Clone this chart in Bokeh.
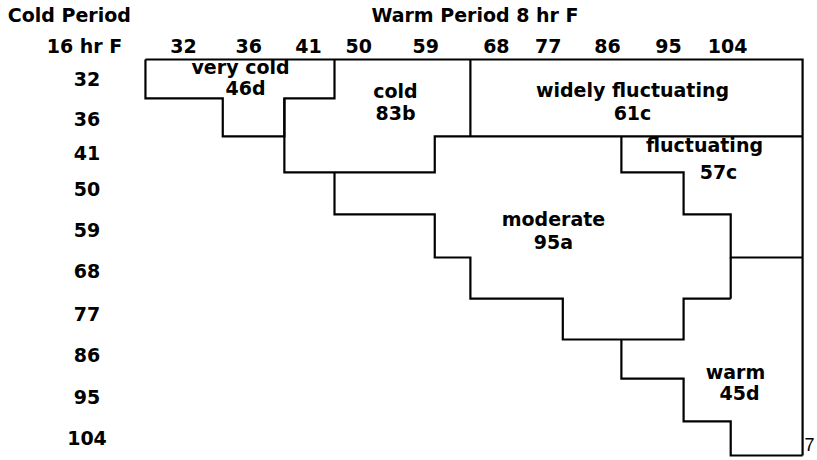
from bokeh.plotting import figure
from bokeh.models import Range1d
from bokeh.core.properties import value
from bokeh.embed import file_html
from bokeh.resources import INLINE

# ---------------- data ----------------
warm_temps = ["32", "36", "41", "50", "59", "68", "77", "86", "95", "104"]
cold_temps = ["32", "36", "41", "50", "59", "68", "77", "86", "95", "104"]

# header positions (warm, in column units) and row-label baselines (cold, in row units)
warm_label_pos = [0.0, 1.08, 2.07, 2.90, 4.01, 5.18, 6.04, 7.02, 8.03, 9.01]
cold_label_pos = [0.48, 1.49, 2.37, 3.26, 4.31, 5.35, 6.43, 7.47, 8.51, 9.57]

# grid edges of the drawn classification (column units / row units)
warm_edges = [-0.63, 0.65, 1.67, 2.50, 4.16, 4.75, 6.28, 7.25, 8.28, 9.06, 10.25]
cold_edges = [0.0, 0.98, 1.94, 2.85, 3.91, 5.0, 6.04, 7.07, 8.06, 9.14, 10.0]

# region boundaries as (warm edge index, cold edge index) vertices
boundary_paths = [
    [(0, 0), (10, 0), (10, 10)],
    [(0, 0), (0, 1), (1, 1), (1, 2), (2, 2), (2, 1), (3, 1), (3, 0)],
    [(2, 1), (2, 3), (4, 3), (4, 2), (10, 2)],
    [(5, 0), (5, 2)],
    [(7, 2), (7, 3), (8, 3), (8, 4), (9, 4), (9, 5), (10, 5)],
    [(9, 5), (9, 6)],
    [(3, 3), (3, 4), (4, 4), (4, 5), (5, 5), (5, 6), (6, 6), (6, 7), (8, 7), (8, 6), (9, 6)],
    [(7, 7), (7, 8), (8, 8), (8, 9), (9, 9), (9, 10), (10, 10)],
]

region_names = ["very cold", "cold", "widely fluctuating", "fluctuating", "moderate", "warm"]
region_codes = ["46d", "83b", "61c", "57c", "95a", "45d"]
name_x = [0.944, 3.51, 7.434, 8.626, 6.126, 9.139]
name_y = [0.184, 0.783, 0.775, 2.164, 4.015, 7.886]
code_x = [1.026, 3.51, 7.434, 8.858, 6.126, 9.205]
code_y = [0.732, 1.351, 1.363, 2.836, 4.603, 8.434]

# ---------------- figure ----------------
p = figure(width=817, height=460,
           x_range=Range1d(-3.030, 10.497), y_range=Range1d(10.126, -1.490),
           output_backend="svg", toolbar_location=None, min_border=0)
p.axis.visible = False
p.grid.visible = False
p.outline_line_color = None
p.background_fill_color = "white"
p.border_fill_color = "white"

xs = [[warm_edges[i] for i, j in path] for path in boundary_paths]
ys = [[cold_edges[j] for i, j in path] for path in boundary_paths]
p.multi_line(xs=xs, ys=ys, line_color="black", line_width=2.2, line_join="miter")

FONT = value("DejaVu Sans")
common = dict(text_font=FONT, text_font_style="bold", text_font_size="19px",
              text_color="black", text_baseline="alphabetic")

# titles
p.text(x=[-2.91], y=[-1.124], text=["Cold Period"], text_align="left", **common)
p.text(x=[4.826], y=[-1.124], text=["Warm Period 8 hr F"], text_align="center", **common)
p.text(x=[-1.639], y=[-0.329], text=["16 hr F"], text_align="center", **common)

# warm headers
p.text(x=warm_label_pos, y=[-0.329] * len(warm_temps), text=warm_temps, text_align="center", **common)
# cold row labels
p.text(x=[-1.598] * len(cold_temps), y=cold_label_pos, text=cold_temps, text_align="center", **common)

# region labels
p.text(x=name_x, y=name_y, text=region_names, text_align="center", **common)
p.text(x=code_x, y=code_y, text=region_codes, text_align="center", **common)

# figure number at the lower right corner
p.text(x=[10.281], y=[9.72], text=["7"], text_align="left", text_font=value("Liberation Sans"),
       text_font_size="18px", text_color="black", text_baseline="alphabetic")

open("out.html", "w").write(file_html(p, INLINE))
